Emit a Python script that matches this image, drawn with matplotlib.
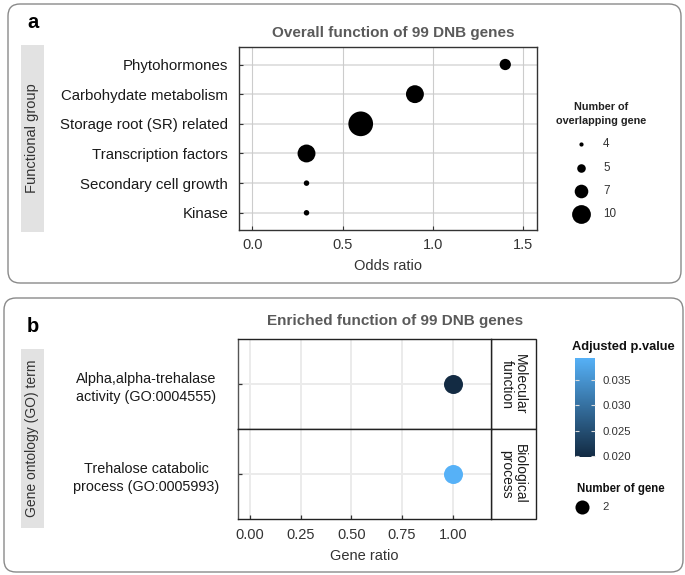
import numpy as np
import matplotlib
matplotlib.use("Agg")
import matplotlib.pyplot as plt
from matplotlib.patches import FancyBboxPatch, Rectangle
from matplotlib.colors import LinearSegmentedColormap, Normalize

plt.rcParams['font.family'] = ['Liberation Sans', 'DejaVu Sans']

# ---------------- data ----------------
groups = ["Phytohormones", "Carbohydate metabolism", "Storage root (SR) related",
          "Transcription factors", "Secondary cell growth", "Kinase"]
odds_ratio = [1.4, 0.9, 0.6, 0.3, 0.3, 0.3]
overlap_n = [5, 7, 10, 7, 4, 4]
size_breaks = [4, 5, 7, 10]
a_xticks = [0.0, 0.5, 1.0, 1.5]

go_terms = ["Alpha,alpha-trehalase\nactivity (GO:0004555)",
            "Trehalose catabolic\nprocess (GO:0005993)"]
go_facets = ["Molecular\nfunction", "Biological\nprocess"]
gene_ratio = [1.0, 1.0]
adj_p = [0.0199, 0.0393]
gene_n = [2, 2]
b_xticks = [0.00, 0.25, 0.50, 0.75, 1.00]
p_ticks = [0.020, 0.025, 0.030, 0.035]

# ---------------- layout helpers ----------------
W, H = 685, 575
DPI = 100
fig = plt.figure(figsize=(W / DPI, H / DPI), dpi=DPI)

def rect(l, t, r, b):
    return [l / W, 1 - b / H, (r - l) / W, (b - t) / H]

def diam_px(v, vmin=4, vmax=10, dmin=5.5, dmax=24.7):
    return np.sqrt(dmin ** 2 + (v - vmin) / (vmax - vmin) * (dmax ** 2 - dmin ** 2))

def s_of(d):
    return (d * 72 / DPI) ** 2

TXT = '#333333'

ov = fig.add_axes([0, 0, 1, 1])
ov.set_xlim(0, W)
ov.set_ylim(H, 0)
ov.axis('off')
ov.set_zorder(-1)

# panel boxes
for (l, t, r, b) in [(8, 4, 681, 283), (4, 298, 683, 572)]:
    ov.add_patch(FancyBboxPatch((l, t), r - l, b - t,
                                boxstyle="round,pad=0,rounding_size=12",
                                fc='white', ec='#8a8a8a', lw=1.0))

ov.text(33, 23, "a", fontsize=14.5, fontweight='bold', ha='center', va='center', color='black')
ov.text(33, 327, "b", fontsize=14.5, fontweight='bold', ha='center', va='center', color='black')

# y-label strips
ov.add_patch(Rectangle((21, 45), 23, 187, fc='#e2e2e2', ec='none'))
ov.text(32.5, 138.5, "Functional group", rotation=90, ha='center', va='center',
        fontsize=10.5, color=TXT)
ov.add_patch(Rectangle((21, 349), 23, 179, fc='#e2e2e2', ec='none'))
ov.text(32.5, 438.5, "Gene ontology (GO) term", rotation=90, ha='center', va='center',
        fontsize=10, color=TXT)

# ---------------- panel a ----------------
axa = fig.add_axes(rect(239.3, 47.3, 536.7, 230))
ypos = np.arange(len(groups))[::-1]
axa.scatter(odds_ratio, ypos, s=[s_of(diam_px(v)) for v in overlap_n],
            color='black', zorder=3, linewidths=0)
axa.set_xlim(-0.072, 1.574)
axa.set_ylim(-0.58, len(groups) - 1 + 0.58)
axa.set_xticks(a_xticks)
axa.set_xticklabels([f"{v:.1f}" for v in a_xticks])
axa.set_yticks(ypos)
axa.set_yticklabels(groups, fontsize=10.8, color='#1a1a1a')
axa.tick_params(axis='both', direction='in', length=3, width=0.8, color='#333333')
axa.tick_params(axis='x', labelsize=10.5, labelcolor=TXT, pad=6)
axa.tick_params(axis='y', pad=8)
for y in ypos:
    axa.axhline(y, color='#dedede', lw=1.3, zorder=1)
for x in a_xticks:
    axa.axvline(x, color='#cccccc', lw=0.8, zorder=1)
for sp in axa.spines.values():
    sp.set_color('#333333')
    sp.set_linewidth(1.0)
axa.set_xlabel("Odds ratio", fontsize=10.5, color=TXT, labelpad=5)
ov.text(393, 33, "Overall function of 99 DNB genes", ha='center', va='center',
        fontsize=11, fontweight='bold', color='#5a5a5a')

# legend a
ov.text(601, 107, "Number of", ha='center', va='center', fontsize=7.8,
        fontweight='bold', color='#222222')
ov.text(601, 121, "overlapping gene", ha='center', va='center', fontsize=7.8,
        fontweight='bold', color='#222222')
leg_y = [144, 167.7, 190.7, 214.3]
for v, yy in zip(size_breaks, leg_y):
    ov.scatter([581], [yy], s=s_of(diam_px(v) * 0.76), color='black', linewidths=0)
    ov.text(603, yy, str(v), ha='left', va='center', fontsize=8.4, color=TXT)

# ---------------- panel b ----------------
cmap = LinearSegmentedColormap.from_list("gg", ['#132B43', '#56B1F7'])
norm = Normalize(vmin=min(adj_p), vmax=max(adj_p))
facet_bounds = [(339.3, 429.3), (429.3, 519.3)]
b_diam = 19.0
axes_b = []
for i, (t, b) in enumerate(facet_bounds):
    ax = fig.add_axes(rect(237.7, t, 490.7, b))
    axes_b.append(ax)
    ax.scatter([gene_ratio[i]], [0], s=s_of(b_diam), color=cmap(norm(adj_p[i])),
               zorder=3, linewidths=0)
    ax.set_xlim(-0.061, 1.187)
    ax.set_ylim(-1, 1)
    ax.set_xticks(b_xticks)
    ax.set_xticklabels([f"{v:.2f}" for v in b_xticks])
    ax.set_yticks([0])
    ax.set_yticklabels([go_terms[i]], ha='center', multialignment='center',
                       fontsize=10.4, color='#1a1a1a', linespacing=1.35)
    ax.tick_params(axis='y', direction='in', length=3, width=0.9, color='#333333',
                   pad=(237.7 - 146) * 72 / DPI)
    ax.tick_params(axis='x', direction='in', length=3, width=0.9, color='#333333',
                   labelsize=10.5, labelcolor=TXT, pad=6)
    ax.axhline(0, color='#ebebeb', lw=1.4, zorder=1)
    for x in b_xticks:
        ax.axvline(x, color='#ebebeb', lw=1.4, zorder=1)
    for sp in ax.spines.values():
        sp.set_color('#222222')
        sp.set_linewidth(1.0)
    ax.spines['left'].set_color('#555555')
    if i == 0:
        ax.tick_params(axis='x', length=0, labelbottom=False)
    # facet strip
    ov.add_patch(Rectangle((490.7, t), 536 - 490.7, b - t, fc='white', ec='#222222', lw=1.0))
    ov.text((490.7 + 536) / 2, (t + b) / 2, go_facets[i], rotation=270, ha='center',
            va='center', fontsize=10, color='#1a1a1a', multialignment='center',
            linespacing=1.0)
axes_b[1].set_xlabel("Gene ratio", fontsize=10.5, color=TXT, labelpad=5)
ov.text(395, 321, "Enriched function of 99 DNB genes", ha='center', va='center',
        fontsize=11, fontweight='bold', color='#5a5a5a')

# colorbar
cax = fig.add_axes(rect(575, 358, 595, 457))
grad = np.linspace(0, 1, 256).reshape(-1, 1)
cax.imshow(grad, aspect='auto', cmap=cmap, origin='lower',
           extent=[0, 1, norm.vmin, norm.vmax])
cax.set_xlim(0, 1)
cax.set_ylim(norm.vmin, norm.vmax)
cax.set_xticks([])
cax.set_yticks(p_ticks)
cax.set_yticklabels([f"{v:.3f}" for v in p_ticks])
cax.yaxis.tick_right()
cax.tick_params(axis='y', left=True, right=True, labelleft=False, labelright=True,
                direction='in', length=3, width=0.8, color='#dddddd',
                labelsize=8.2, labelcolor=TXT, pad=5.5)
for sp in cax.spines.values():
    sp.set_visible(False)
ov.text(623, 347, "Adjusted p.value", ha='center', va='center', fontsize=9.3,
        fontweight='bold', color='#111111')
ov.text(621, 489, "Number of gene", ha='center', va='center', fontsize=8.3,
        fontweight='bold', color='#111111')
ov.scatter([582], [507], s=s_of(b_diam * 0.74), color='black', linewidths=0)
ov.text(602, 507, str(gene_n[0]), ha='left', va='center', fontsize=8.2, color=TXT)

fig.savefig("out.png", dpi=DPI)
